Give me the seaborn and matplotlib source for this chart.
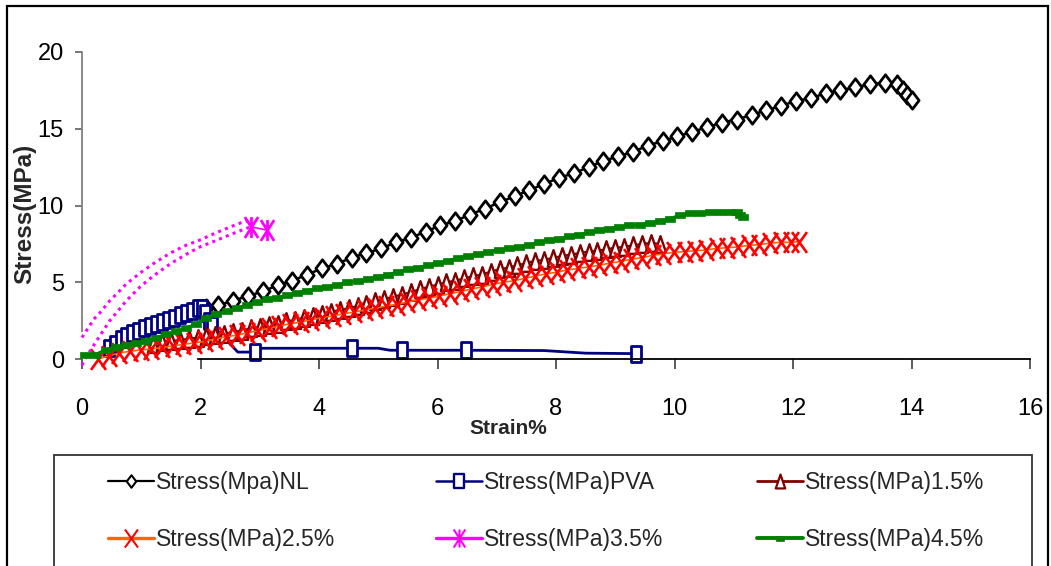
import matplotlib
matplotlib.use("Agg")
import matplotlib.pyplot as plt
from matplotlib.path import Path
from matplotlib.lines import Line2D
from matplotlib.patches import Rectangle
import seaborn as sns
import pandas as pd

# ---------------- data ----------------
nl_x = [2.10, 2.30, 2.55, 2.80, 3.05, 3.30, 3.55, 3.80, 4.05, 4.30, 4.55, 4.80, 5.05, 5.30, 5.55,
        5.80, 6.05, 6.30, 6.55, 6.80, 7.05, 7.30, 7.55, 7.80, 8.05, 8.30, 8.55, 8.80, 9.05, 9.30,
        9.55, 9.80, 10.05, 10.30, 10.55, 10.80, 11.05, 11.30, 11.55, 11.80, 12.05, 12.30, 12.55,
        12.80, 13.05, 13.30, 13.55, 13.75, 13.85, 13.92, 14.00]
nl_y = [3.3, 3.5, 3.8, 4.1, 4.4, 4.8, 5.1, 5.5, 5.9, 6.2, 6.6, 6.9, 7.2, 7.6, 7.9,
        8.3, 8.7, 9.0, 9.4, 9.8, 10.2, 10.6, 11.0, 11.4, 11.8, 12.1, 12.5, 12.9, 13.2, 13.5,
        13.9, 14.2, 14.5, 14.8, 15.1, 15.4, 15.6, 15.9, 16.2, 16.5, 16.8, 17.0, 17.3,
        17.5, 17.7, 17.9, 18.0, 17.9, 17.5, 17.2, 16.9]

pva_x = [0.45, 0.55, 0.65, 0.75, 0.85, 0.95, 1.05, 1.15, 1.25, 1.35, 1.45, 1.55, 1.65, 1.75,
         1.85, 1.95, 2.02, 2.08, 2.14, 2.20, 2.63, 2.80, 2.92, 3.00, 4.55, 5.00, 5.20, 5.40,
         6.48, 7.80, 8.50, 9.35]
pva_y = [0.7, 1.0, 1.3, 1.5, 1.7, 1.85, 2.0, 2.15, 2.3, 2.4, 2.55, 2.7, 2.85, 3.0,
         3.1, 3.3, 3.3, 3.0, 2.5, 2.2, 0.45, 0.45, 0.45, 0.7, 0.7, 0.7, 0.57, 0.57,
         0.57, 0.55, 0.38, 0.35]
pva_marked = [True] * 20 + [False, False, True, False, True, False, False, True,
                            True, False, False, True]

p15_x = [1.20, 1.35, 1.50, 1.65, 1.80, 1.95, 2.10, 2.25, 2.40, 2.55, 2.70, 2.85, 3.00, 3.15,
         3.30, 3.45, 3.60, 3.75, 3.90, 4.05, 4.20, 4.35, 4.50, 4.65, 4.80, 4.95, 5.10, 5.25,
         5.40, 5.55, 5.70, 5.85, 6.00, 6.15, 6.30, 6.45, 6.60, 6.75, 6.90, 7.05, 7.20, 7.35,
         7.50, 7.65, 7.80, 7.95, 8.10, 8.25, 8.40, 8.55, 8.70, 8.85, 9.00, 9.15, 9.30, 9.45,
         9.60, 9.75]
p15_y = [1.00, 1.10, 1.15, 1.25, 1.30, 1.40, 1.50, 1.55, 1.65, 1.75, 1.85, 2.00, 2.10, 2.20,
         2.30, 2.45, 2.55, 2.70, 2.80, 2.95, 3.05, 3.20, 3.30, 3.45, 3.60, 3.75, 3.90, 4.05,
         4.20, 4.35, 4.55, 4.70, 4.85, 5.00, 5.10, 5.25, 5.40, 5.50, 5.70, 5.85, 5.95, 6.10,
         6.25, 6.40, 6.45, 6.60, 6.70, 6.80, 6.90, 7.00, 7.05, 7.15, 7.25, 7.30, 7.40, 7.50,
         7.55, 7.50]

p25_x = [0.27, 0.45, 0.63, 0.81, 0.99, 1.17, 1.35, 1.53, 1.71, 1.89, 2.07, 2.25, 2.43, 2.61,
         2.79, 2.97, 3.15, 3.33, 3.51, 3.69, 3.87, 4.05, 4.23, 4.41, 4.59, 4.77, 4.95, 5.13,
         5.31, 5.49, 5.67, 5.85, 6.03, 6.21, 6.39, 6.57, 6.75, 6.93, 7.11, 7.29, 7.47, 7.65,
         7.83, 8.01, 8.19, 8.37, 8.55, 8.73, 8.91, 9.09, 9.27, 9.45, 9.63, 9.81, 9.99, 10.17,
         10.35, 10.53, 10.71, 10.89, 11.07, 11.25, 11.43, 11.61, 11.79, 11.97, 12.10]
p25_y = [0.00, 0.20, 0.40, 0.50, 0.60, 0.65, 0.75, 0.85, 0.95, 1.05, 1.15, 1.30, 1.45, 1.55,
         1.70, 1.85, 2.00, 2.15, 2.30, 2.40, 2.55, 2.70, 2.80, 2.95, 3.05, 3.20, 3.30, 3.45,
         3.55, 3.70, 3.85, 3.95, 4.10, 4.25, 4.40, 4.55, 4.70, 4.85, 5.00, 5.10, 5.25, 5.40,
         5.55, 5.65, 5.80, 5.90, 6.00, 6.10, 6.25, 6.35, 6.50, 6.60, 6.75, 6.85, 6.95, 7.00,
         7.05, 7.10, 7.20, 7.25, 7.30, 7.40, 7.45, 7.55, 7.60, 7.60, 7.65]

p35_upper_x = [0.00, 0.10, 0.20, 0.30, 0.47, 0.60, 0.75, 0.98, 1.20, 1.49, 1.75, 1.99, 2.25, 2.50, 2.70, 2.84]
p35_upper_y = [1.4, 2.0, 2.6, 3.0, 3.8, 4.3, 4.9, 5.6, 6.2, 6.9, 7.4, 7.75, 8.2, 8.6, 8.9, 9.05]
p35_lower_x = [0.00, 0.10, 0.20, 0.30, 0.47, 0.60, 0.75, 0.98, 1.20, 1.49, 1.75, 1.99, 2.25, 2.50, 2.70, 2.84]
p35_lower_y = [-0.4, 0.3, 0.9, 1.5, 2.5, 3.1, 3.8, 4.7, 5.4, 6.2, 6.8, 7.3, 7.7, 8.1, 8.4, 8.6]
p35_end_x = [2.86, 3.12]
p35_end_y = [8.6, 8.4]

p45_x = [0.05, 0.22, 0.40, 0.57, 0.74, 0.91, 1.08, 1.25, 1.42, 1.59, 1.76, 1.93, 2.10, 2.27,
         2.44, 2.61, 2.78, 2.95, 3.12, 3.29, 3.46, 3.63, 3.80, 3.97, 4.14, 4.31, 4.48, 4.65,
         4.82, 4.99, 5.16, 5.33, 5.50, 5.67, 5.84, 6.01, 6.18, 6.35, 6.52, 6.69, 6.86, 7.03,
         7.20, 7.37, 7.54, 7.71, 7.88, 8.05, 8.22, 8.39, 8.56, 8.73, 8.90, 9.07, 9.24, 9.41,
         9.58, 9.75, 9.92, 10.09, 10.26, 10.43, 10.60, 10.77, 10.94, 11.05, 11.10, 11.15]
p45_y = [0.26, 0.28, 0.6, 0.75, 0.9, 1.05, 1.2, 1.4, 1.6, 1.8, 2.0, 2.3, 2.7, 2.9,
         3.1, 3.3, 3.5, 3.7, 3.9, 4.0, 4.15, 4.3, 4.45, 4.6, 4.7, 4.85, 5.0, 5.05,
         5.2, 5.35, 5.5, 5.65, 5.85, 5.95, 6.1, 6.25, 6.4, 6.6, 6.7, 6.85, 7.0, 7.1,
         7.2, 7.3, 7.45, 7.6, 7.75, 7.85, 8.0, 8.1, 8.25, 8.4, 8.5, 8.6, 8.7, 8.75,
         8.85, 9.0, 9.15, 9.35, 9.5, 9.5, 9.55, 9.6, 9.6, 9.55, 9.4, 9.25]

labels = ["Stress(Mpa)NL", "Stress(MPa)PVA", "Stress(MPa)1.5%",
          "Stress(MPa)2.5%", "Stress(MPa)3.5%", "Stress(MPa)4.5%"]
x_ticks = [0, 2, 4, 6, 8, 10, 12, 14, 16]
y_ticks = [0, 5, 10, 15, 20]

# ---------------- style ----------------
sns.set_theme(style="white")
plt.rcParams["font.family"] = ["Liberation Sans", "DejaVu Sans"]

C_NL, C_PVA, C_15 = "#000000", "#000080", "#800000"
C_25M, C_25L, C_35, C_45 = "#FF0000", "#FF6600", "#FF00FF", "#008000"

M = Path.MOVETO
L = Path.LINETO
diamond = Path([(0, 0.5), (0.38, 0), (0, -0.5), (-0.38, 0), (0, 0.5)],
               [M, L, L, L, Path.CLOSEPOLY])
tallsq = Path([(-0.34, -0.5), (0.34, -0.5), (0.34, 0.5), (-0.34, 0.5), (-0.34, -0.5)],
              [M, L, L, L, Path.CLOSEPOLY])
tri = Path([(0, 0.5), (0.34, -0.5), (-0.34, -0.5), (0, 0.5)], [M, L, L, Path.CLOSEPOLY])
xmark = Path([(-0.36, -0.5), (0.36, 0.5), (-0.36, 0.5), (0.36, -0.5)], [M, L, M, L])
star = Path([(-0.32, -0.5), (0.32, 0.5), (-0.32, 0.5), (0.32, -0.5), (0, -0.5), (0, 0.5)],
            [M, L, M, L, M, L])
dash = Path([(-0.5, -0.3), (0.5, -0.3), (0.5, 0.3), (-0.5, 0.3), (-0.5, -0.3)],
            [M, L, L, L, Path.CLOSEPOLY])

fig = plt.figure(figsize=(10.51, 5.66), dpi=100)
W, H = 1051, 566
ax = fig.add_axes([82 / W, 1 - 359 / H, (1030 - 82) / W, (359 - 52) / H])
ax.set_facecolor("white")


def draw(x, y, **kw):
    df = pd.DataFrame({"x": x, "y": y})
    sns.lineplot(data=df, x="x", y="y", sort=False, estimator=None, ax=ax,
                 clip_on=False, legend=False, **kw)


# NL
draw(nl_x, nl_y, color=C_NL, linewidth=1.8, marker=diamond, markersize=12.5,
     markerfacecolor="white", markeredgecolor=C_NL, markeredgewidth=2.0)
# PVA
draw(pva_x, pva_y, color=C_PVA, linewidth=2.0, marker=tallsq, markersize=11.5,
     markerfacecolor="white", markeredgecolor=C_PVA, markeredgewidth=2.0,
     markevery=pva_marked)
# 1.5%
draw(p15_x, p15_y, color=C_15, linewidth=1.6, marker=tri, markersize=12,
     markerfacecolor="white", markeredgecolor=C_15, markeredgewidth=1.7)
# 2.5%
draw(p25_x, p25_y, color=C_25L, linewidth=1.2, marker=xmark, markersize=15,
     markerfacecolor="none", markeredgecolor=C_25M, markeredgewidth=1.9)
# 3.5%
draw(p35_upper_x, p35_upper_y, color=C_35, linewidth=2.2, linestyle=(0, (1.0, 1.4)))
draw(p35_lower_x, p35_lower_y, color=C_35, linewidth=2.2, linestyle=(0, (1.0, 1.4)))
draw(p35_end_x, p35_end_y, color=C_35, linewidth=1.2, marker=star, markersize=15,
     markerfacecolor="none", markeredgecolor=C_35, markeredgewidth=2.0)
# 4.5%
draw(p45_x, p45_y, color=C_45, linewidth=2.2, marker=dash, markersize=7.5,
     markerfacecolor=C_45, markeredgecolor=C_45, markeredgewidth=0.5)

ax.set_xlim(0, 16)
ax.set_ylim(0, 20)
ax.set_xticks(x_ticks)
ax.set_yticks(y_ticks)
ax.set_xticklabels([str(v) for v in x_ticks])
ax.set_yticklabels([str(v) for v in y_ticks])
ax.set_xlabel("")
ax.set_ylabel("")
for s in ("top", "right"):
    ax.spines[s].set_visible(False)
ax.spines["left"].set_color("#808080")
ax.spines["left"].set_linewidth(1.3)
ax.spines["left"].set_bounds(1.8, 20)
ax.spines["bottom"].set_color("#000000")
ax.spines["bottom"].set_linewidth(1.3)
ax.spines["bottom"].set_bounds(1.95, 16)
ax.tick_params(axis="y", direction="out", length=5, width=1.2, color="#606060",
               pad=8, labelsize=17, labelcolor="black", left=True)
ax.tick_params(axis="x", direction="out", length=7, width=1.2, color="#404040",
               pad=21, labelsize=17, labelcolor="black", bottom=True)
ax.grid(False)

fig.text(508 / W, 1 - 429 / H, "Strain%", ha="center", va="center",
         fontsize=15, fontweight="bold")
fig.text(25 / W, 1 - 214 / H, "Stress(MPa)", ha="center", va="center", rotation=90,
         fontsize=17.5, fontweight="bold")

# outer border and legend frame
fig.add_artist(Rectangle((7 / W, -0.2), (1048 - 7) / W, 1 - 6 / H + 0.2,
                         transform=fig.transFigure, fill=False, edgecolor="black",
                         linewidth=1.6))
fig.add_artist(Rectangle((54 / W, -0.2), (1032 - 54) / W, 1 - 455 / H + 0.2,
                         transform=fig.transFigure, fill=False, edgecolor="#333333",
                         linewidth=1.3))

handles = [
    Line2D([], [], color=C_NL, lw=1.6, marker=diamond, ms=9, mfc="white", mec=C_NL, mew=1.5),
    Line2D([], [], color=C_PVA, lw=1.8, marker=tallsq, ms=10, mfc="white", mec=C_PVA, mew=1.7),
    Line2D([], [], color=C_15, lw=2.0, marker=tri, ms=10, mfc="white", mec=C_15, mew=1.6),
    Line2D([], [], color=C_25L, lw=2.4, marker=xmark, ms=13, mfc="none", mec=C_25M, mew=1.5),
    Line2D([], [], color=C_35, lw=2.4, marker=star, ms=13, mfc="none", mec=C_35, mew=1.5),
    Line2D([], [], color=C_45, lw=2.8, marker=dash, ms=6, mfc=C_45, mec=C_45, mew=0.5),
]
col_x = [108, 436, 757]
for c in range(3):
    hs = [handles[c], handles[c + 3]]
    ls = [labels[c], labels[c + 3]]
    fig.legend(hs, ls, loc="center left", bbox_to_anchor=(col_x[c] / W, 1 - 511 / H),
               frameon=False, fontsize=16.5, handlelength=2.0, handletextpad=0.1,
               borderpad=0, borderaxespad=0, labelspacing=1.45)

fig.savefig("out.png", dpi=100, facecolor="white")
